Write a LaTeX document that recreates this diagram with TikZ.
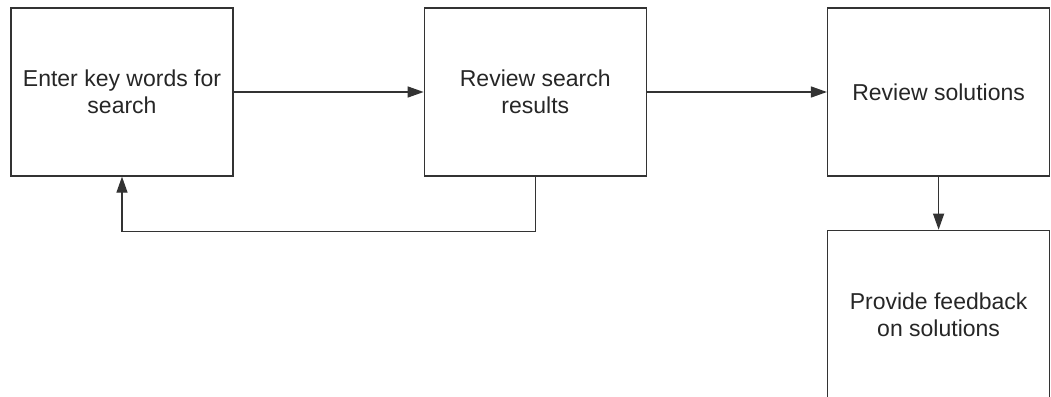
\documentclass[tikz,border=0pt]{standalone}
\usepackage{fontspec}
\setmainfont{Liberation Sans}
\usetikzlibrary{positioning, arrows.meta}
\definecolor{linegray}{HTML}{333333}
\tikzset{
  stepbox/.style={
    draw=linegray,
    line width=1.3pt,
    rectangle,
    minimum width=222pt,
    minimum height=168pt,
    inner sep=0pt,
    align=center,
    text=black!85,
    font=\fontsize{23}{27}\selectfont
  },
  flow/.style={
    draw=linegray,
    line width=1.3pt,
    -{Triangle[length=16pt, width=11pt]}
  }
}

\begin{document}
\begin{tikzpicture}[x=1pt, y=1pt]
        \useasboundingbox (0,0) rectangle (1051,-396);
        \clip (0,0) rectangle (1051,-396);
        \node[stepbox] (enter) at (122,-92) {Enter key words for\\search};
        \node[stepbox, right=190pt of enter] (review) {Review search\\results};
        \node[stepbox, right=180pt of review] (solutions) {Review solutions};
        \node[stepbox, below=53pt of solutions] (feedback) {Provide feedback\\on solutions};
        
        \draw[flow] (enter) -- (review);
        \draw[flow] (review) -- (solutions);
        \draw[flow] (solutions) -- (feedback);
        \draw[flow] (review.south) -- ++(0,-55) -| (enter.south);
      \end{tikzpicture}
\end{document}
